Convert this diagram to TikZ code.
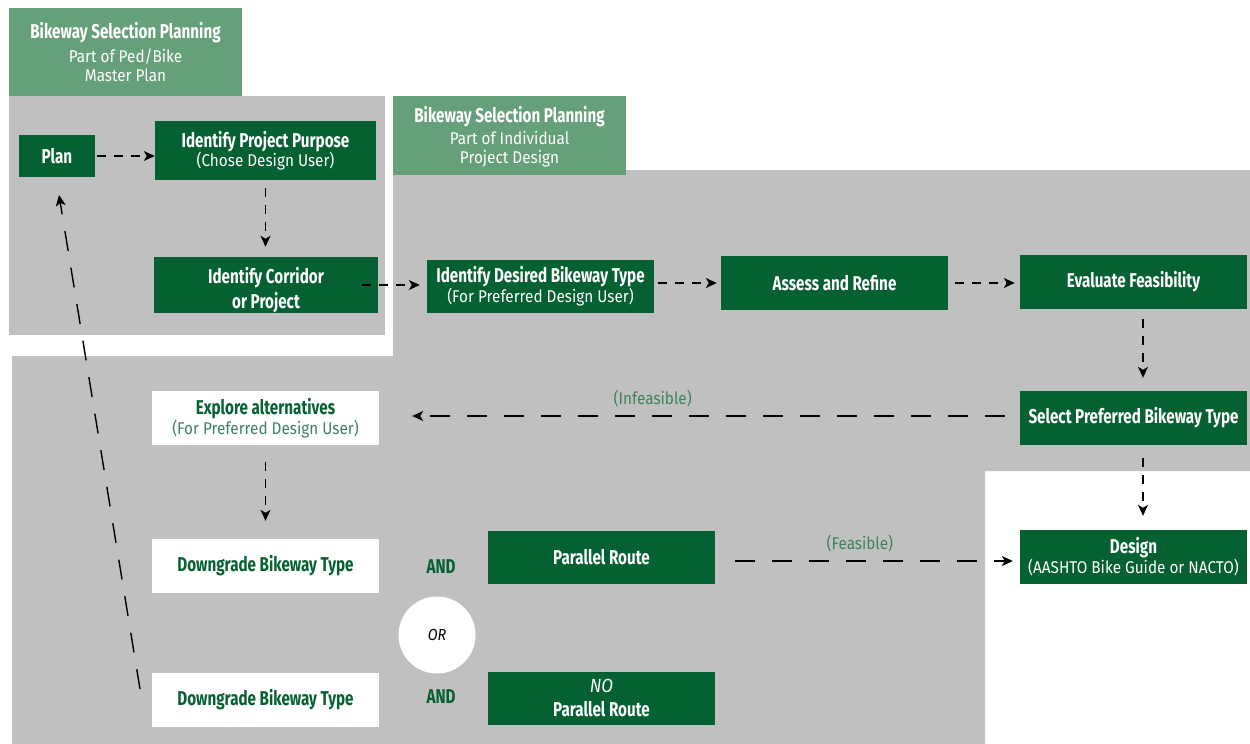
\documentclass[tikz,border=0pt]{standalone}
\usepackage{fontspec}
\setmainfont{Fira Sans}
\newfontfamily\tfont{Fira Sans}[FakeStretch=0.76]
\newfontfamily\sfont{Fira Sans}[FakeStretch=0.9]
\usetikzlibrary{arrows.meta}
\definecolor{dkgreen}{RGB}{5,97,50}
\definecolor{ltgreen}{RGB}{102,160,122}
\definecolor{bggray}{RGB}{192,192,192}
\definecolor{lblgreen}{RGB}{62,130,92}
\newcommand{\ttl}[1]{{\tfont\bfseries\fontsize{20}{20}\selectfont #1}}
\newcommand{\sub}[1]{{\sfont\fontsize{17}{20}\selectfont #1}}
\tikzset{
  base/.style={inner sep=0pt, align=center, font=\fontsize{20}{20}\selectfont},
  gbox/.style={base, fill=dkgreen, text=white, minimum width=227pt, minimum height=54pt},
  wbox/.style={base, fill=white, text=dkgreen, minimum width=227pt, minimum height=54pt},
  hbox/.style={base, fill=ltgreen, text=white, minimum width=233pt, font=\fontsize{20}{19}\selectfont},
  sarrow/.style={draw=black, line width=1.4pt, dash pattern=on 9pt off 8pt, -{Stealth[length=11pt,width=10pt,inset=3pt]}},
  larrow/.style={draw=black, line width=1.4pt, dash pattern=on 20pt off 17pt, -{Stealth[length=11pt,width=10pt,inset=3pt]}},
  lbl/.style={text=lblgreen, font=\sfont\fontsize{17}{20}\selectfont}
}
\begin{document}
\begin{tikzpicture}[x=1pt,y=-1pt]
\useasboundingbox (0,0) rectangle (1250,744);
\fill[white] (0,0) rectangle (1250,744);
% gray areas
\fill[bggray] (9,96) rectangle (385,335);
\fill[bggray] (393,170) -- (1250,170) -- (1250,471) -- (985,471) -- (985,744) -- (12,744) -- (12,356) -- (393,356) -- cycle;
% headers
\node[hbox, minimum height=88pt] (h1) at (125.5,52) {\ttl{Bikeway Selection Planning}\\[5pt]\sub{Part of Ped/Bike}\\\sub{Master Plan}};
\node[hbox, minimum height=79pt] (h2) at (509.5,135.5) {\rule{0pt}{19pt}\ttl{Bikeway Selection Planning}\\[3pt]\sub{Part of Individual}\\\sub{Project Design}};
% nodes
\node[gbox, minimum width=76pt, minimum height=42pt] (plan) at (57,156) {\ttl{Plan}};
\node[gbox, minimum width=221pt, minimum height=59pt] (ipp) at (265.5,150.5) {\ttl{Identify Project Purpose}\\[-1pt]\sub{(Chose Design User)}};
\node[gbox, minimum width=224pt] (corr) at (266,285) {\rule{0pt}{27pt}\ttl{Identify Corridor}\\[3pt]\ttl{or Project}};
\node[gbox, minimum height=53pt] (des) at (540.5,286.5) {\ttl{Identify Desired Bikeway Type}\\\sub{(For Preferred Design User)}};
\node[gbox] (ass) at (834.5,283) {\ttl{Assess and Refine}};
\node[gbox] (eva) at (1133.5,282) {\ttl{Evaluate Feasibility}};
\node[gbox] (sel) at (1133.5,418) {\ttl{Select Preferred Bikeway Type}};
\node[gbox] (dsn) at (1133.5,557) {\ttl{Design}\\\sub{(AASHTO Bike Guide or NACTO)}};
\node[wbox] (exp) at (265.5,418) {\ttl{Explore alternatives}\\{\color{lblgreen}\sub{(For Preferred Design User)}}};
\node[wbox] (dg1) at (265.5,566) {\ttl{Downgrade Bikeway Type}};
\node[wbox] (dg2) at (265.5,700) {\ttl{Downgrade Bikeway Type}};
\node[gbox, minimum height=53pt] (par) at (601.5,557) {\ttl{Parallel Route}};
\node[gbox, minimum height=53pt] (npar) at (601.5,698) {{\sfont\itshape\fontsize{19}{20}\selectfont NO}\\[4pt]\ttl{Parallel Route}};
\node[circle, fill=white, minimum size=77pt, inner sep=0pt] (or) at (437,635) {{\sfont\itshape\fontsize{16}{17}\selectfont OR}};
\node[text=dkgreen, inner sep=0pt] (and1) at (441,567) {\ttl{AND}};
\node[text=dkgreen, inner sep=0pt] (and2) at (441,697) {\ttl{AND}};
% connectors
\draw[sarrow, shorten <=2pt] (plan.east) -- (plan.east -| ipp.west);
\draw[sarrow, shorten <=8pt, shorten >=10pt] (ipp.south) -- (ipp.south |- corr.north);
\draw[sarrow, shorten >=7pt] ([xshift=-16pt]corr.east) -- (corr.east -| des.west);
\draw[sarrow, shorten <=4pt, shorten >=4pt] (des.east |- ass.west) -- (ass.west);
\draw[sarrow, shorten <=7pt, shorten >=5pt] (ass.east) -- (ass.east -| eva.west);
\draw[sarrow, shorten <=10pt, shorten >=13pt] ([xshift=9.5pt]eva.south) -- ([xshift=9.5pt]sel.north);
\draw[sarrow, shorten <=13pt, shorten >=14pt] ([xshift=9.5pt]sel.south) -- ([xshift=9.5pt]dsn.north);
\draw[larrow, shorten <=15pt, shorten >=33pt] ([yshift=2pt]sel.west) -- ([yshift=2pt]sel.west -| exp.east) node[lbl, pos=0.573, above=5pt] {(Infeasible)};
\draw[sarrow, shorten <=17pt, shorten >=18pt] (exp.south) -- (dg1.north);
\draw[larrow, shorten <=20pt, shorten >=7pt] ([yshift=-4pt]par.east) -- ([yshift=-4pt]par.east -| dsn.west) node[lbl, pos=0.475, above=5pt] {(Feasible)};
\coordinate (ret) at (140,689);
\coordinate (ptip) at (59,195);
\draw[larrow] (ret) -- (ptip);
\end{tikzpicture}
\end{document}
